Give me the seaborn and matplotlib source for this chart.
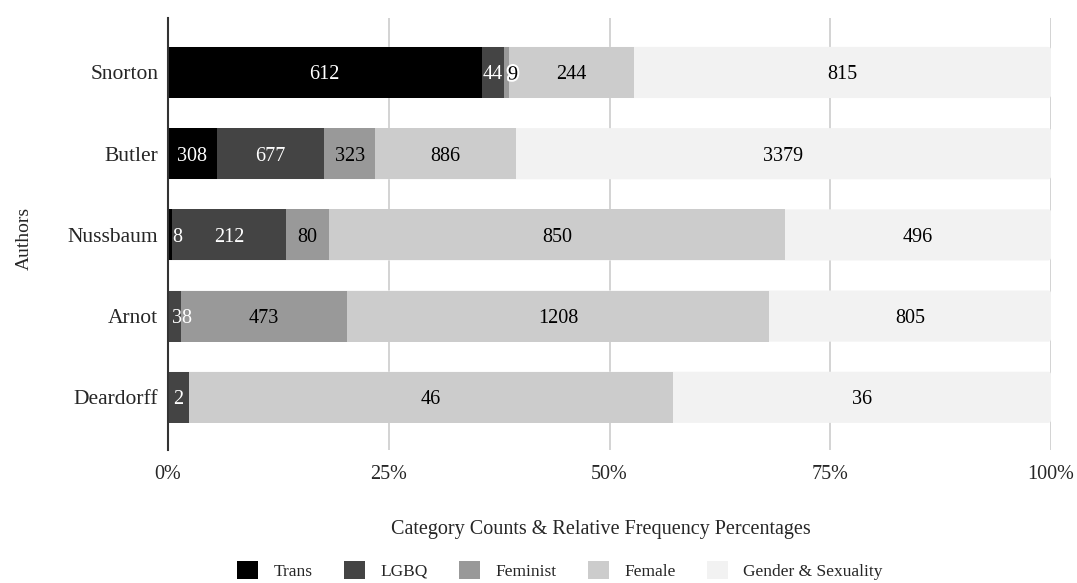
import numpy as np
import pandas as pd
import matplotlib
matplotlib.use("Agg")
import matplotlib.pyplot as plt
import matplotlib.patheffects as pe
from matplotlib.patches import Patch, FancyBboxPatch
import seaborn as sns

authors = ["Snorton", "Butler", "Nussbaum", "Arnot", "Deardorff"]
categories = ["Trans", "LGBQ", "Feminist", "Female", "Gender & Sexuality"]
trans = [612, 308, 8, 0, 0]
lgbq = [44, 677, 212, 38, 2]
feminist = [9, 323, 80, 473, 0]
female = [244, 886, 850, 1208, 46]
gender_sexuality = [815, 3379, 496, 805, 36]
tick_labels = ["0%", "25%", "50%", "75%", "100%"]

colors = ["#000000", "#444444", "#999999", "#cccccc", "#f2f2f2"]
text_colors = ["white", "white", "black", "black", "black"]

sns.set_theme(style="white")
plt.rcParams["font.family"] = ["Liberation Serif", "DejaVu Serif"]

counts = pd.DataFrame(
    np.array([trans, lgbq, feminist, female, gender_sexuality]).T,
    index=authors, columns=categories,
)
share = counts.div(counts.sum(axis=1), axis=0) * 100
cum = share.cumsum(axis=1)

fig = plt.figure(figsize=(10.77, 5.83), dpi=100)
ax = fig.add_axes([0.156, 0.228, 0.820, 0.741])

# Stack by overlaying cumulative bars, widest first
for i in range(len(categories) - 1, -1, -1):
    df = pd.DataFrame({"author": authors, "value": cum.iloc[:, i].values})
    sns.barplot(data=df, x="value", y="author", orient="h", color=colors[i],
                saturation=1, width=0.63, linewidth=0, ax=ax, zorder=2)

ax.set_xlim(0, 100)
ax.set_ylim(4.65, -0.67)

# Round the outer end of each full-length bar
full_bars = list(ax.containers[0].patches)
for rect in full_bars:
    x0, y0, w, h = rect.get_x(), rect.get_y(), rect.get_width(), rect.get_height()
    fc = rect.get_facecolor()
    rect.remove()
    ax.add_patch(FancyBboxPatch((x0, y0), w, h,
                                boxstyle="round,pad=0,rounding_size=0.36",
                                mutation_aspect=0.109, facecolor=fc,
                                edgecolor="none", zorder=1.9))

# Value labels on each segment
for r, a in enumerate(authors):
    for i, c in enumerate(categories):
        v = counts.loc[a, c]
        if v == 0:
            continue
        start = cum.iloc[r, i] - share.iloc[r, i]
        w = share.iloc[r, i]
        effects = None
        if w < 2:
            x, ha = start + 0.45, "left"
            if text_colors[i] == "black":
                effects = [pe.withStroke(linewidth=3, foreground="white")]
        else:
            x, ha = start + w / 2, "center"
        ax.text(x, r, f"{v}", ha=ha, va="center_baseline", color=text_colors[i],
                fontsize=14.5, zorder=5, path_effects=effects)

ax.set_xticks([0, 25, 50, 75, 100])
ax.set_xticklabels(tick_labels, fontsize=14.5)
ax.tick_params(axis="y", labelsize=15.5, pad=7, length=0)
ax.tick_params(axis="x", pad=11, length=0)
ax.xaxis.grid(True, color="#d0d0d0", linewidth=1.3, zorder=0)
ax.yaxis.grid(False)
for s in ["top", "right", "bottom"]:
    ax.spines[s].set_visible(False)
ax.spines["left"].set_color("#333333")
ax.spines["left"].set_linewidth(1.5)
ax.spines["left"].set_zorder(4)
ax.set_axisbelow(True)

ax.set_xlabel("Category Counts & Relative Frequency Percentages", fontsize=14.5)
ax.xaxis.label.set_verticalalignment("center")
ax.xaxis.set_label_coords(0.49, -0.185)
ax.set_ylabel("Authors", fontsize=14)
ax.yaxis.label.set_verticalalignment("center")
ax.yaxis.set_label_coords(-0.163, 0.49)

handles = [Patch(facecolor=col, edgecolor="none", label=c) for c, col in zip(categories, colors)]
fig.legend(handles=handles, loc="center", bbox_to_anchor=(0.52, 0.022), ncol=5,
           frameon=False, fontsize=12.5, handlelength=1.2, handleheight=1.2,
           columnspacing=1.8, handletextpad=0.9)

fig.savefig("out.png", dpi=100, facecolor="white")
